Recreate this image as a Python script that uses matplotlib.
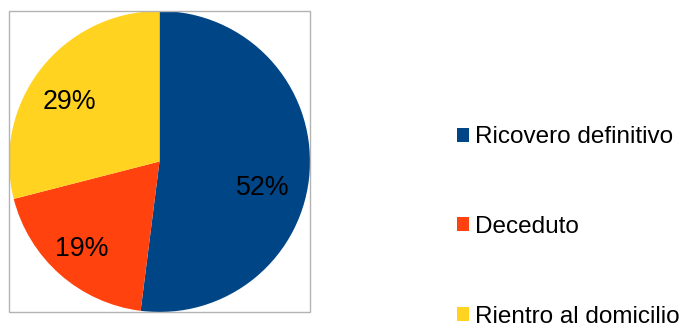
import matplotlib.pyplot as plt
from matplotlib.patches import Patch, Rectangle

plt.rcParams['font.family'] = ['Liberation Sans', 'DejaVu Sans']

labels = ['Ricovero definitivo', 'Deceduto', 'Rientro al domicilio']
values = [52, 19, 29]
colors = ['#004586', '#ff420e', '#ffd320']

fig = plt.figure(figsize=(6.85, 3.28), dpi=100)
ax = fig.add_axes([9/685, 16/328, 301/685, 301/328])

wedges, texts, autotexts = ax.pie(values, colors=colors, startangle=90, counterclock=False,
                                  autopct='%d%%', pctdistance=0.72, radius=1.0,
                                  textprops={'fontsize': 19.3, 'color': 'black'},
                                  wedgeprops={'linewidth': 0})
# nudge the percentage labels a little, like the original
nudges = [(-0.03, -0.13), (-0.04, -0.04), (-0.03, -0.045)]
for t, (dx, dy) in zip(autotexts, nudges):
    x, y = t.get_position()
    t.set_position((x + dx, y + dy))

ax.set_xlim(-1, 1)
ax.set_ylim(-1, 1)
ax.set_aspect('auto')

# grey frame round the pie
fig.patches.append(Rectangle((9/685, 16/328), 301/685, 301/328, transform=fig.transFigure,
                             fill=False, edgecolor='#b3b3b3', linewidth=1))

handles = [Patch(facecolor=c, edgecolor='none') for c in colors]
fig.legend(handles, labels, loc='center left', bbox_to_anchor=(447/685, (328-227)/328),
           frameon=False, fontsize=17.5, handlelength=0.5, handleheight=0.5,
           handletextpad=0.25, labelspacing=2.78, borderaxespad=0)

fig.savefig('out.png', dpi=100)
